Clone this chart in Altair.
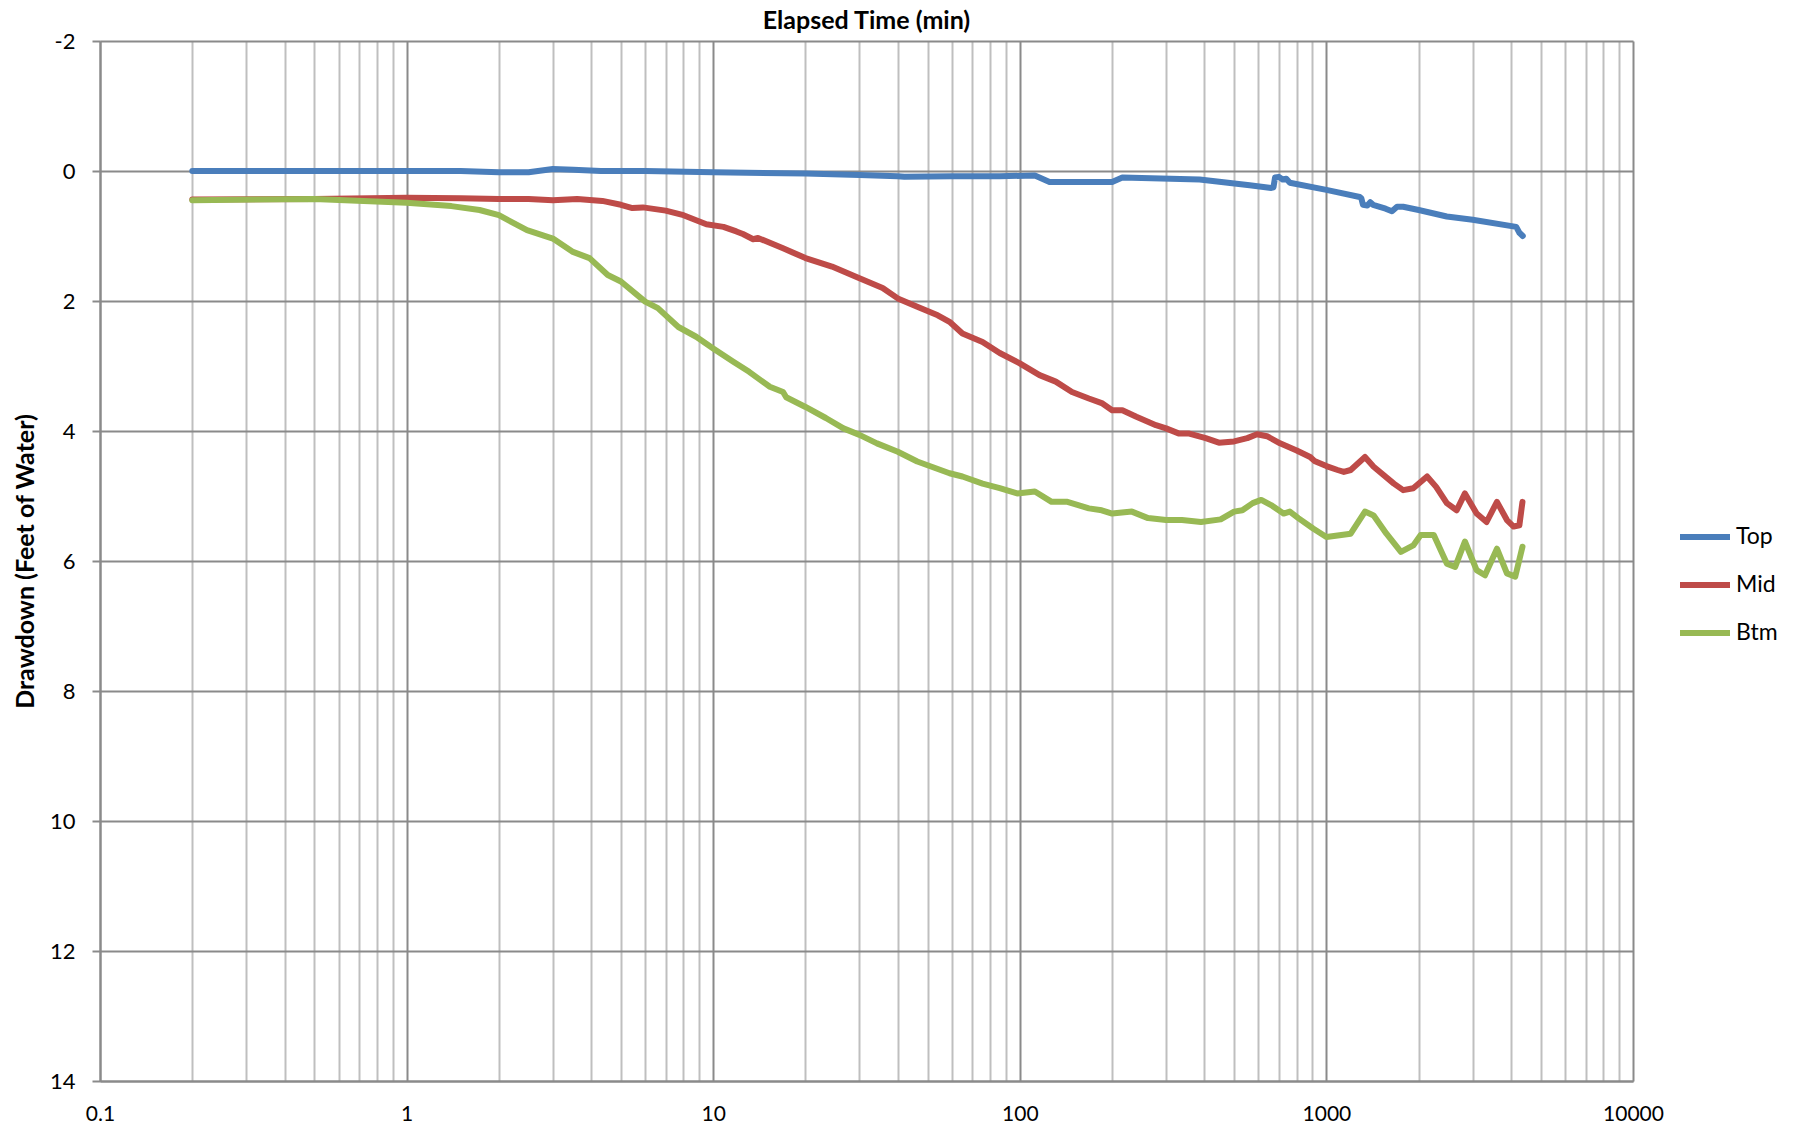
import altair as alt
import pandas as pd

# ---- data ----
top_t = [0.2, 0.5, 1.0, 1.5, 2.0, 2.5, 3.0, 3.5, 4.3, 6, 10, 20, 30, 40, 42, 60, 86, 112, 125,
         200, 216, 386, 562, 661, 672, 680, 700, 720, 740, 760, 1000, 1285, 1300, 1316, 1360,
         1390, 1420, 1560, 1636, 1700, 1780, 2000, 2470, 3000, 4160, 4260, 4370]
top_y = [0.0, 0.0, 0.0, 0.0, 0.02, 0.02, -0.03, -0.02, 0.0, 0.0, 0.02, 0.04, 0.06, 0.08, 0.09,
         0.08, 0.08, 0.07, 0.17, 0.17, 0.10, 0.13, 0.22, 0.26, 0.25, 0.10, 0.09, 0.13, 0.12, 0.18,
         0.29, 0.40, 0.42, 0.52, 0.53, 0.48, 0.52, 0.58, 0.62, 0.55, 0.55, 0.60, 0.70, 0.75, 0.86,
         0.95, 1.00]

mid_t = [0.2, 0.5, 1.0, 1.5, 2.0, 2.5, 3.0, 3.6, 4.35, 5.0, 5.45, 5.9, 7.0, 8.0, 9.5, 10.8, 11.9,
         12.5, 13.5, 14, 16.9, 20, 24.4, 30, 35.7, 40, 46.3, 54, 59, 65, 75.6, 86, 100, 116, 131,
         148, 168, 185, 200, 216, 240, 278, 300, 331, 357, 404, 446, 500, 552, 594, 640, 706, 800,
         885, 914, 1000, 1088, 1140, 1200, 1336, 1426, 1660, 1780, 1920, 2130, 2280, 2470, 2660,
         2830, 3090, 3330, 3600, 3880, 4080, 4260, 4360]
mid_y = [0.44, 0.43, 0.41, 0.42, 0.43, 0.43, 0.45, 0.43, 0.46, 0.52, 0.57, 0.56, 0.61, 0.68, 0.82,
         0.86, 0.93, 0.97, 1.05, 1.03, 1.19, 1.34, 1.47, 1.65, 1.80, 1.96, 2.09, 2.22, 2.32, 2.50,
         2.63, 2.80, 2.96, 3.14, 3.24, 3.40, 3.50, 3.57, 3.68, 3.68, 3.78, 3.91, 3.96, 4.04, 4.04,
         4.11, 4.18, 4.16, 4.11, 4.05, 4.08, 4.19, 4.30, 4.40, 4.46, 4.54, 4.60, 4.63, 4.60, 4.40,
         4.55, 4.81, 4.91, 4.88, 4.70, 4.86, 5.11, 5.22, 4.96, 5.27, 5.40, 5.09, 5.37, 5.47, 5.45,
         5.09]

btm_t = [0.2, 0.5, 1.0, 1.4, 1.73, 2.0, 2.47, 3.0, 3.47, 3.95, 4.53, 5.0, 6.0, 6.6, 7.7, 8.8, 10,
         11.6, 13.1, 15.3, 16.9, 17.3, 20, 23.3, 26.6, 30, 34.2, 40, 46.3, 59, 65, 75.6, 86, 98,
         112, 127, 143, 168, 185, 200, 232, 262, 300, 338, 390, 452, 500, 532, 575, 613, 660, 725,
         760, 810, 905, 1000, 1200, 1336, 1426, 1570, 1750, 1920, 2030, 2240, 2470, 2630, 2830,
         3090, 3290, 3600, 3880, 4130, 4360]
btm_y = [0.45, 0.43, 0.49, 0.54, 0.60, 0.68, 0.91, 1.04, 1.24, 1.34, 1.60, 1.70, 2.01, 2.11, 2.40,
         2.55, 2.73, 2.93, 3.09, 3.32, 3.40, 3.48, 3.63, 3.80, 3.96, 4.06, 4.19, 4.32, 4.47, 4.65,
         4.70, 4.81, 4.88, 4.96, 4.93, 5.09, 5.09, 5.19, 5.22, 5.27, 5.24, 5.34, 5.37, 5.37, 5.40,
         5.36, 5.24, 5.22, 5.11, 5.06, 5.14, 5.27, 5.24, 5.34, 5.50, 5.63, 5.58, 5.24, 5.30, 5.58,
         5.86, 5.76, 5.60, 5.60, 6.04, 6.09, 5.70, 6.14, 6.22, 5.81, 6.19, 6.24, 5.78]

series_names = ["Top", "Mid", "Btm"]
series_colors = ["#4A7EBB", "#BE4B48", "#98B954"]

x_ticks = [round(m * 10 ** e, 6) for e in range(-1, 4) for m in range(1, 10)] + [10000]
y_ticks = [-2, 0, 2, 4, 6, 8, 10, 12, 14]

rows = []
for name, ts, ys in zip(series_names, [top_t, mid_t, btm_t], [top_y, mid_y, btm_y]):
    for t, v in zip(ts, ys):
        rows.append({"series": name, "t": t, "d": v})
df = pd.DataFrame(rows)

W, H = 1533, 1040
decade = "abs(log(datum.value)/LN10 - round(log(datum.value)/LN10)) < 0.001"
GRID_DARK = "#8a8a8a"
GRID_LIGHT = "#bfbfbf"

chart = (
    alt.Chart(df)
    .mark_line(strokeWidth=6, strokeCap="round", strokeJoin="round")
    .encode(
        x=alt.X(
            "t:Q",
            scale=alt.Scale(type="log", domain=[0.1, 10000]),
            axis=alt.Axis(
                values=x_ticks,
                title=None,
                ticks=False,
                labelExpr=f"({decade}) ? '' + datum.value : ''",
                labelFontSize=21,
                labelPadding=22,
                labelColor="black",
                labelFlush=False,
                labelOverlap=False,
                gridColor={"condition": {"test": decade, "value": GRID_DARK}, "value": GRID_LIGHT},
                gridWidth=2,
                gridOpacity=1,
                domainColor=GRID_DARK,
                domainWidth=2,
            ),
        ),
        y=alt.Y(
            "d:Q",
            scale=alt.Scale(domain=[-2, 14], reverse=True, nice=False, zero=False),
            axis=alt.Axis(
                values=y_ticks,
                title="Drawdown (Feet of Water)",
                titleFontSize=25,
                titleFontWeight="bold",
                titleColor="black",
                titleX=-75,
                titleY=H / 2,
                titleAngle=-90,
                titleAlign="center",
                titleBaseline="middle",
                labelExpr="'' + datum.value",
                labelFontSize=22,
                labelPadding=17,
                labelColor="black",
                tickSize=8,
                tickColor=GRID_DARK,
                tickWidth=2,
                gridColor=GRID_DARK,
                gridWidth=2,
                gridOpacity=1,
                domainColor=GRID_DARK,
                domainWidth=2,
            ),
        ),
        color=alt.Color(
            "series:N",
            scale=alt.Scale(domain=series_names, range=series_colors),
            legend=alt.Legend(
                title=None,
                orient="none",
                legendX=1577,
                legendY=468,
                symbolType="stroke",
                symbolSize=2500,
                symbolStrokeWidth=6,
                labelFontSize=23,
                labelOffset=3,
                labelColor="black",
                rowPadding=8,
                padding=0,
            ),
        ),
    )
    .properties(
        width=W,
        height=H,
        title=alt.Title(
            "Elapsed Time (min)",
            fontSize=25,
            fontWeight="bold",
            anchor="middle",
            offset=-4,
            color="black",
        ),
        autosize=alt.AutoSizeParams(type="none"),
        padding={"left": 100, "top": 41, "right": 166, "bottom": 50},
        background="white",
    )
    .configure(font="Lato")
    .configure_view(stroke=None)
)

chart.save("out.html", embed_options={"renderer": "svg", "actions": False})
